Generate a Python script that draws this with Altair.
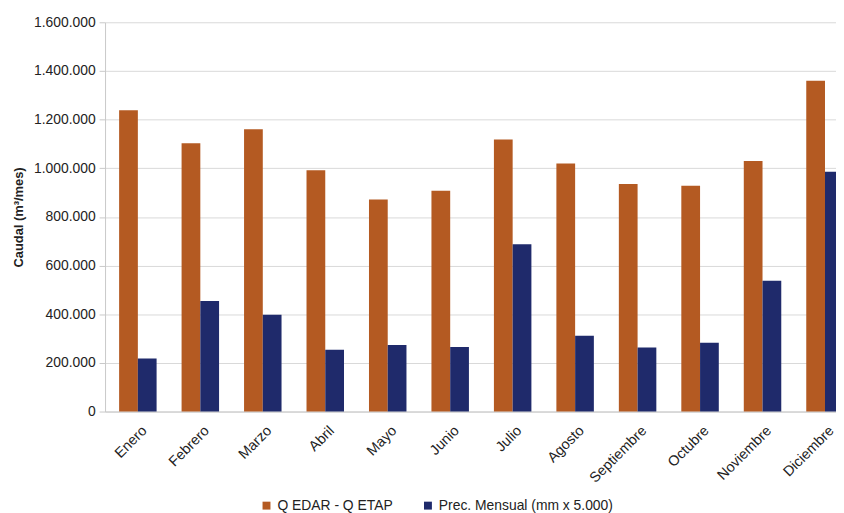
import altair as alt
import pandas as pd

months = ["Enero", "Febrero", "Marzo", "Abril", "Mayo", "Junio", "Julio",
          "Agosto", "Septiembre", "Octubre", "Noviembre", "Diciembre"]
q_edar = [1238000, 1103000, 1160000, 992000, 872000, 908000, 1118000,
          1020000, 935000, 928000, 1030000, 1360000]
prec = [218000, 454000, 398000, 254000, 274000, 265000, 688000,
        312000, 263000, 283000, 538000, 986000]
series = ["Q EDAR - Q ETAP", "Prec. Mensual (mm x 5.000)"]
colors = ["#B45A22", "#1F2A6B"]

rows = []
for m, a, b in zip(months, q_edar, prec):
    rows.append({"Mes": m, "Serie": series[0], "Valor": a})
    rows.append({"Mes": m, "Serie": series[1], "Valor": b})
df = pd.DataFrame(rows)

font = "Liberation Sans"

chart = alt.Chart(df).mark_bar().encode(
    x=alt.X("Mes:N", sort=months,
            scale=alt.Scale(paddingInner=0.4, paddingOuter=0.225, range=[0, 760]),
            axis=alt.Axis(title=None, labelAngle=-45, labelFontSize=14.5,
                          labelColor="#222222", labelFont=font, ticks=False,
                          domainColor="#c8c8c8", labelPadding=12, labelOffset=2)),
    xOffset=alt.XOffset("Serie:N", sort=series),
    y=alt.Y("Valor:Q", scale=alt.Scale(domain=[0, 1600000]),
            axis=alt.Axis(title="Caudal (m³/mes)", values=list(range(0, 1600001, 200000)),
                          labelExpr="replace(format(datum.value, ','), /,/g, '.')",
                          labelFontSize=14, labelFont=font, labelColor="#222222",
                          titleFont=font, titleFontSize=13, titleFontWeight="bold",
                          titleColor="#222222", titlePadding=8,
                          gridColor="#d9d9d9", domainColor="#c8c8c8",
                          tickColor="#c8c8c8", tickSize=6, labelPadding=4)),
    color=alt.Color("Serie:N", sort=series,
                    scale=alt.Scale(domain=series, range=colors),
                    legend=alt.Legend(title=None, orient="none", direction="horizontal",
                                      legendX=156, legendY=481, symbolType="square",
                                      symbolSize=64, symbolStrokeWidth=0,
                                      labelFontSize=14, labelFont=font, labelOffset=4,
                                      labelLimit=400,
                                      labelColor="#222222", columnPadding=28)),
).properties(
    width=737, height=393,
    autosize=alt.AutoSizeParams(type="none"),
    padding={"left": 98, "top": 12, "right": 1, "bottom": 100},
).configure_view(stroke=None)

chart.save("out.html", embed_options={"renderer": "svg", "actions": False})
